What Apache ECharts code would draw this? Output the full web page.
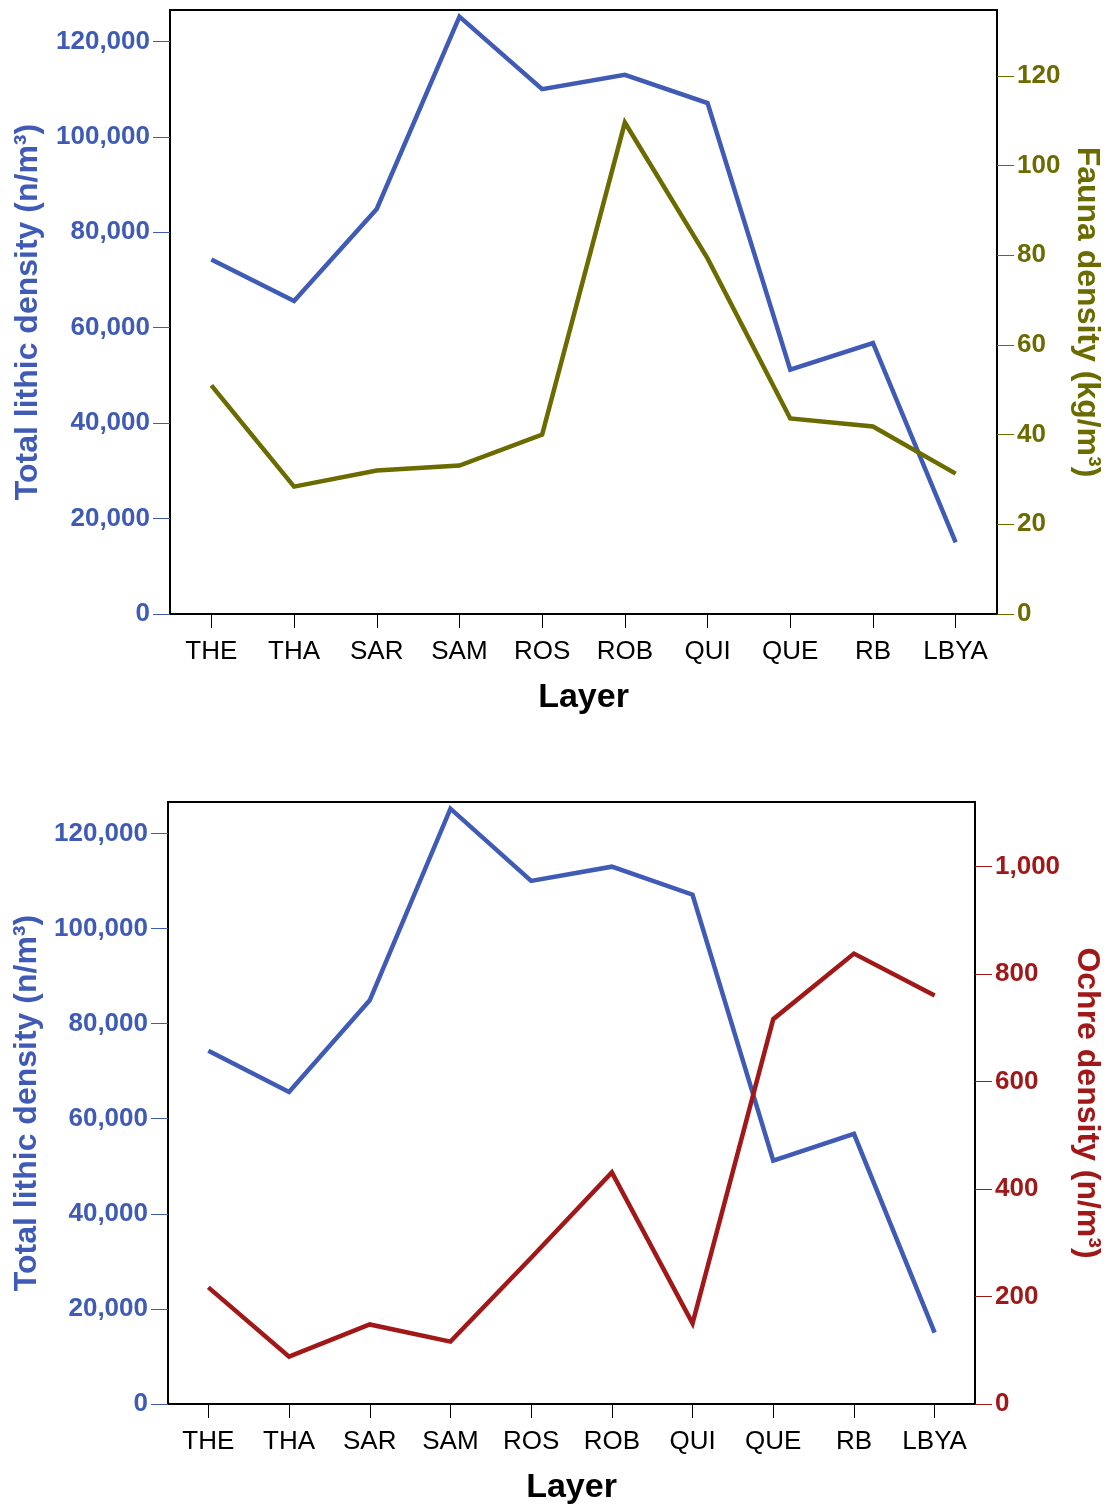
<!DOCTYPE html>
<html>
<head>
<meta charset="utf-8">
<script src="https://cdn.jsdelivr.net/npm/echarts@6/dist/echarts.min.js"></script>
<style>
  html, body { margin: 0; padding: 0; background: #ffffff; }
  #chart { width: 1119px; height: 1506px; }
</style>
</head>
<body>
<div id="chart"></div>
<script>
// Layers, from top of the sequence to the base
const layers = ['THE', 'THA', 'SAR', 'SAM', 'ROS', 'ROB', 'QUI', 'QUE', 'RB', 'LBYA'];

// Total lithic density per layer (n/m³)
const lithicDensity = [74300, 65600, 84900, 125200, 110000, 113000, 107100, 51200, 56800, 15000];
// Fauna density per layer (kg/m³)
const faunaDensity = [51.0, 28.4, 32.0, 33.1, 40.0, 109.6, 79.3, 43.6, 41.8, 31.3];
// Ochre density per layer (n/m³)
const ochreDensity = [217, 88, 148, 116, 272, 431, 150, 716, 838, 760];

// Tick values for each axis
const lithicTicks = [0, 20000, 40000, 60000, 80000, 100000, 120000];
const faunaTicks = [0, 20, 40, 60, 80, 100, 120];
const ochreTicks = [0, 200, 400, 600, 800, 1000];

// Axis extents
const lithicMax = 126600;
const faunaMax = 134.7;
const ochreMax = 1120;

const BLUE = '#3f5bb5';
const OLIVE = '#6b6b00';
const RED = '#a11818';
const FONT = '"Liberation Sans", Arial, Helvetica, sans-serif';

const fmt = v => Number(v).toLocaleString('en-US');

function valueAxis(opts) {
  return {
    type: 'value',
    gridIndex: opts.grid,
    position: opts.position,
    min: 0,
    max: opts.max,
    name: opts.name,
    nameLocation: 'middle',
    nameGap: opts.nameGap,
    nameRotate: opts.position === 'left' ? 90 : -90,
    nameTextStyle: { color: opts.color, fontFamily: FONT, fontWeight: 'bold', fontSize: 32 },
    axisLine: { show: false },
    axisTick: { show: true, inside: false, length: 17, customValues: opts.ticks, lineStyle: { color: opts.color, width: 1 } },
    axisLabel: {
      customValues: opts.ticks,
      margin: 20,
      color: opts.color,
      fontFamily: FONT,
      fontWeight: 'bold',
      fontSize: 26,
      formatter: fmt
    },
    splitLine: { show: false }
  };
}

function categoryAxis(grid) {
  return {
    type: 'category',
    gridIndex: grid,
    data: layers,
    boundaryGap: true,
    name: 'Layer',
    nameLocation: 'middle',
    nameGap: 67,
    nameTextStyle: { color: '#000', fontFamily: FONT, fontWeight: 'bold', fontSize: 34 },
    axisLine: { show: true, lineStyle: { color: '#000', width: 2 } },
    axisTick: { show: true, alignWithLabel: true, length: 14, lineStyle: { color: '#000', width: 1 } },
    axisLabel: { color: '#000', fontFamily: FONT, fontSize: 26, margin: 25, interval: 0 },
    splitLine: { show: false }
  };
}

function line(name, data, xi, yi, color) {
  return {
    name: name,
    type: 'line',
    xAxisIndex: xi,
    yAxisIndex: yi,
    data: data,
    showSymbol: false,
    symbol: 'none',
    lineStyle: { color: color, width: 4.5, join: 'miter' },
    animation: false,
    z: 3
  };
}

const chart = echarts.init(document.getElementById('chart'), null, { renderer: 'canvas' });

chart.setOption({
  backgroundColor: '#ffffff',
  animation: false,
  grid: [
    { left: 170, right: 122, top: 10, height: 604, show: true, borderColor: '#000', borderWidth: 2, backgroundColor: 'transparent' },
    { left: 168, right: 144, top: 802, height: 603, show: true, borderColor: '#000', borderWidth: 2, backgroundColor: 'transparent' }
  ],
  xAxis: [categoryAxis(0), categoryAxis(1)],
  yAxis: [
    valueAxis({ grid: 0, position: 'left', max: lithicMax, ticks: lithicTicks, color: BLUE, name: 'Total lithic density (n/m³)', nameGap: 126 }),
    valueAxis({ grid: 0, position: 'right', max: faunaMax, ticks: faunaTicks, color: OLIVE, name: 'Fauna density (kg/m³)', nameGap: 72 }),
    valueAxis({ grid: 1, position: 'left', max: lithicMax, ticks: lithicTicks, color: BLUE, name: 'Total lithic density (n/m³)', nameGap: 124 }),
    valueAxis({ grid: 1, position: 'right', max: ochreMax, ticks: ochreTicks, color: RED, name: 'Ochre density (n/m³)', nameGap: 94 })
  ],
  series: [
    line('Total lithic density', lithicDensity, 0, 0, BLUE),
    line('Fauna density', faunaDensity, 0, 1, OLIVE),
    line('Total lithic density', lithicDensity, 1, 2, BLUE),
    line('Ochre density', ochreDensity, 1, 3, RED)
  ]
});
</script>
</body>
</html>
